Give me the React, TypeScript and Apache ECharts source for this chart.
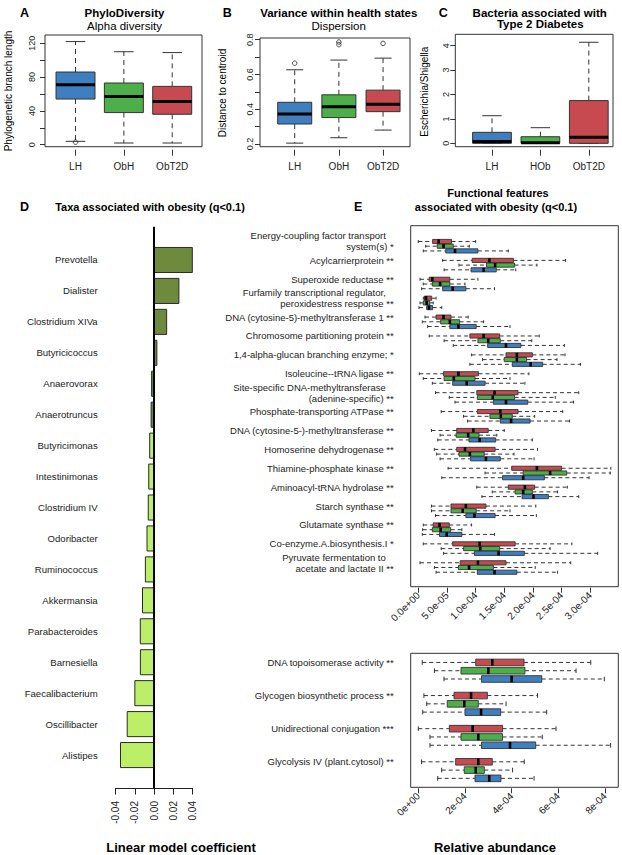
import React, { useEffect, useRef } from 'react';
import * as echarts from 'echarts';

const FONT = '"Liberation Sans", Arial, Helvetica, sans-serif';
const BLUE = '#3F7FBF';
const GREEN = '#4CAF4A';
const RED = '#C64A50';
const DARK_GREEN = '#6E8B3D';
const LIGHT_GREEN = '#BCEE68';

// ---------- Panels A-C : groups ----------
const GROUPS_AB = ['LH', 'ObH', 'ObT2D'];
const GROUPS_C = ['LH', 'HOb', 'ObT2D'];

// box stats: [min, q1, median, q3, max]
const PHYLO_BOX = [
  [4, 54, 71, 86, 122],
  [2, 38, 57, 73, 110],
  [2, 36, 51, 69, 109],
];
const PHYLO_OUTLIERS = [[1, 3]]; // [group position, value]
const PHYLO_TICKS = [0, 20, 40, 60, 80, 100, 120];
const PHYLO_LABELS = [0, 40, 80, 120];

const DISP_BOX = [
  [0.205, 0.315, 0.373, 0.44, 0.627],
  [0.236, 0.352, 0.415, 0.483, 0.683],
  [0.28, 0.386, 0.429, 0.51, 0.694],
];
const DISP_OUTLIERS = [[1, 0.665], [2, 0.787], [2, 0.772], [3, 0.779]];
const DISP_TICKS = [0.2, 0.3, 0.4, 0.5, 0.6, 0.7, 0.8];
const DISP_LABELS = [0.2, 0.4, 0.6, 0.8];

const ESCH_BOX = [
  [0, 0, 0.07, 0.45, 1.13],
  [0, 0, 0.02, 0.27, 0.64],
  [0, 0, 0.25, 1.75, 4.14],
];
const ESCH_TICKS = [0, 1, 2, 3, 4];

// ---------- Panel D ----------
const TAXA = [
  'Prevotella', 'Dialister', 'Clostridium XIVa', 'Butyricicoccus', 'Anaerovorax',
  'Anaerotruncus', 'Butyricimonas', 'Intestinimonas', 'Clostridium IV', 'Odoribacter',
  'Ruminococcus', 'Akkermansia', 'Parabacteroides', 'Barnesiella', 'Faecalibacterium',
  'Oscillibacter', 'Alistipes',
];
const TAXA_COEF = [
  0.04, 0.026, 0.0132, 0.003, -0.0025, -0.003, -0.0045, -0.0055, -0.006, -0.0073,
  -0.009, -0.012, -0.0143, -0.0142, -0.02, -0.028, -0.035,
];
const TAXA_DARK = [1, 1, 1, 1, 1, 1, 0, 0, 0, 0, 0, 0, 0, 0, 0, 0, 0];
const COEF_TICKS = [-0.04, -0.02, 0, 0.02, 0.04];

// ---------- Panel E (values in units of 1e-4) ----------
const NB = '\u00a0\u00a0\u00a0';
const FEATURES_TOP = [
  'Energy-coupling factor transport' + NB + '\nsystem(s) *',
  'Acylcarrierprotein **',
  'Superoxide reductase **',
  'Furfamily transcriptional regulator,' + NB + '\nperoxidestress response **',
  'DNA (cytosine-5)-methyltransferase 1 **',
  'Chromosome partitioning protein **',
  '1,4-alpha-glucan branching enzyme; *',
  'Isoleucine--tRNA ligase **',
  'Site-specific DNA-methyltransferase' + NB + '\n(adenine-specific) **',
  'Phosphate-transporting ATPase **',
  'DNA (cytosine-5-)-methyltransferase **',
  'Homoserine dehydrogenase **',
  'Thiamine-phosphate kinase **',
  'Aminoacyl-tRNA hydrolase **',
  'Starch synthase **',
  'Glutamate synthase **',
  'Co-enzyme.A.biosynthesis.I *',
  'Pyruvate fermentation to' + NB + '\nacetate and lactate II **',
];
const TOP_OBT2D = [
  [0, 0.25, 0.355, 0.58, 1.0],
  [0.425, 0.94, 1.24, 1.66, 2.57],
  [0.03, 0.19, 0.245, 0.55, 1.04],
  [0.087, 0.105, 0.134, 0.233, 0.31],
  [0.117, 0.31, 0.44, 0.57, 0.87],
  [0.19, 0.9, 1.14, 1.42, 2.11],
  [0.93, 1.53, 1.72, 1.99, 2.56],
  [0.017, 0.44, 0.7, 1.05, 1.93],
  [0.3, 1.02, 1.33, 1.74, 2.8],
  [0.4, 1.03, 1.43, 1.74, 2.52],
  [0.23, 0.67, 0.96, 1.22, 1.5],
  [0.28, 0.67, 0.815, 1.34, 2.08],
  [0.52, 1.63, 2.07, 2.5, 3.36],
  [1.02, 1.57, 1.86, 2.03, 2.6],
  [0.23, 0.57, 0.83, 1.18, 2.05],
  [0.087, 0.26, 0.37, 0.54, 0.93],
  [0.087, 0.6, 1.07, 1.69, 2.68],
  [0.03, 0.73, 1.04, 1.53, 2.66],
];
const TOP_OBH = [
  [0.128, 0.33, 0.44, 0.61, 0.89],
  [0.71, 1.19, 1.34, 1.68, 2.07],
  [0.087, 0.245, 0.38, 0.55, 0.815],
  [0.03, 0.087, 0.146, 0.2, 0.26],
  [0.07, 0.39, 0.55, 0.72, 1.14],
  [0.45, 1.04, 1.22, 1.43, 1.98],
  [1.12, 1.5, 1.72, 1.89, 2.42],
  [0.087, 0.45, 0.62, 0.99, 1.6],
  [0.54, 1.03, 1.3, 1.68, 2.39],
  [0.79, 1.25, 1.44, 1.64, 2.03],
  [0.38, 0.66, 0.87, 1.06, 1.37],
  [0.32, 0.71, 0.9, 1.15, 1.67],
  [1.165, 1.83, 2.3, 2.59, 3.35],
  [1.29, 1.69, 1.83, 1.99, 2.43],
  [0.23, 0.57, 0.775, 1.01, 1.6],
  [0.076, 0.245, 0.39, 0.565, 0.76],
  [0.4, 0.79, 1.08, 1.42, 2.3],
  [0.28, 0.7, 0.885, 1.31, 2.04],
];
const TOP_LH = [
  [0.087, 0.48, 0.64, 1.04, 1.57],
  [0.45, 0.92, 1.14, 1.36, 1.7],
  [0.058, 0.425, 0.6, 0.83, 1.33],
  [0.012, 0.146, 0.186, 0.25, 0.41],
  [0.163, 0.55, 0.7, 1.01, 1.6],
  [0.61, 1.21, 1.53, 1.79, 2.55],
  [0.9, 1.64, 1.96, 2.17, 2.83],
  [0.245, 0.6, 0.845, 1.165, 1.86],
  [0.64, 1.31, 1.53, 1.91, 2.71],
  [0.86, 1.43, 1.62, 1.95, 2.64],
  [0.34, 0.885, 1.07, 1.35, 1.99],
  [0.38, 0.91, 1.18, 1.43, 2.02],
  [0.41, 1.47, 1.83, 2.2, 2.98],
  [1.11, 1.81, 2.01, 2.27, 2.8],
  [0.3, 0.83, 0.98, 1.34, 2.06],
  [0.07, 0.37, 0.495, 0.76, 1.33],
  [0.44, 0.98, 1.4, 1.85, 3.13],
  [0.31, 1.03, 1.33, 1.72, 2.43],
];
const TOP_TICKS = [0, 0.5, 1, 1.5, 2, 2.5, 3];

const FEATURES_BOTTOM = [
  'DNA topoisomerase activity **',
  'Glycogen biosynthetic process **',
  'Unidirectional conjugation ***',
  'Glycolysis IV (plant.cytosol) **',
];
const BOT_OBT2D = [
  [0.17, 2.46, 3.17, 4.53, 7.39],
  [0.24, 1.53, 2.26, 2.96, 5.11],
  [0, 1.33, 2.33, 3.61, 5.9],
  [0.14, 1.6, 2.57, 3.17, 4.54],
];
const BOT_OBH = [
  [0.69, 1.83, 3.0, 4.57, 6.76],
  [0.36, 1.24, 1.97, 2.57, 3.76],
  [0.5, 1.83, 2.57, 3.61, 5.31],
  [1.0, 1.97, 2.46, 2.83, 4.04],
];
const BOT_LH = [
  [1.1, 2.71, 4.0, 5.29, 7.97],
  [0.19, 2.0, 2.69, 3.53, 5.5],
  [0.5, 2.71, 3.93, 5.03, 8.24],
  [0.83, 2.43, 3.04, 3.54, 4.96],
];
const BOT_TICKS = [0, 2, 4, 6, 8];

const AB_COLORS = [BLUE, GREEN, RED];
const E_COLORS = [RED, GREEN, BLUE];

function fmtExp(v: number, d: number) {
  return v.toExponential(d).replace(/e([+-])(\d)$/, (_m: string, s: string, n: string) => 'e' + s + '0' + n);
}

function vBox(halfW: number) {
  return (params: any, api: any) => {
    const x = api.value(0);
    const v = [1, 2, 3, 4, 5].map((k) => api.value(k));
    const g = api.value(6);
    const p = v.map((val) => api.coord([x, val]));
    const hw = api.size([halfW, 0])[0];
    const cx = p[0][0];
    const dash = { stroke: '#333', lineWidth: 1, lineDash: [5, 4] };
    const solid = { stroke: '#333', lineWidth: 1 };
    return {
      type: 'group',
      children: [
        { type: 'line', shape: { x1: cx, y1: p[3][1], x2: cx, y2: p[4][1] }, style: dash },
        { type: 'line', shape: { x1: cx, y1: p[1][1], x2: cx, y2: p[0][1] }, style: dash },
        { type: 'line', shape: { x1: cx - hw / 2, y1: p[4][1], x2: cx + hw / 2, y2: p[4][1] }, style: solid },
        { type: 'line', shape: { x1: cx - hw / 2, y1: p[0][1], x2: cx + hw / 2, y2: p[0][1] }, style: solid },
        {
          type: 'rect',
          shape: { x: cx - hw, y: p[3][1], width: 2 * hw, height: p[1][1] - p[3][1] },
          style: { fill: AB_COLORS[g], stroke: '#333', lineWidth: 1 },
        },
        { type: 'line', shape: { x1: cx - hw, y1: p[2][1], x2: cx + hw, y2: p[2][1] }, style: { stroke: '#000', lineWidth: 3 } },
      ],
    };
  };
}

function hBox(boxH: number) {
  return (params: any, api: any) => {
    const y = api.value(0);
    const v = [1, 2, 3, 4, 5].map((k) => api.value(k));
    const g = api.value(6);
    const p = v.map((val) => api.coord([val, y]));
    const h = api.size([0, boxH])[1];
    const cy = p[0][1];
    const cap = h * 0.35;
    const dash = { stroke: '#333', lineWidth: 1, lineDash: [4, 3] };
    const solid = { stroke: '#333', lineWidth: 1 };
    return {
      type: 'group',
      children: [
        { type: 'line', shape: { x1: p[0][0], y1: cy, x2: p[1][0], y2: cy }, style: dash },
        { type: 'line', shape: { x1: p[3][0], y1: cy, x2: p[4][0], y2: cy }, style: dash },
        { type: 'line', shape: { x1: p[0][0], y1: cy - cap, x2: p[0][0], y2: cy + cap }, style: solid },
        { type: 'line', shape: { x1: p[4][0], y1: cy - cap, x2: p[4][0], y2: cy + cap }, style: solid },
        {
          type: 'rect',
          shape: { x: p[1][0], y: cy - h / 2, width: p[3][0] - p[1][0], height: h },
          style: { fill: E_COLORS[g], stroke: '#333', lineWidth: 0.9 },
        },
        { type: 'line', shape: { x1: p[2][0], y1: cy - h / 2, x2: p[2][0], y2: cy + h / 2 }, style: { stroke: '#000', lineWidth: 2.6 } },
      ],
    };
  };
}

function T(text: string, x: number, y: number, size: number, bold: boolean, align = 'center', rotation = 0) {
  return {
    type: 'text',
    x,
    y,
    rotation,
    silent: true,
    style: {
      text,
      font: (bold ? 'bold ' : '') + size + 'px ' + FONT,
      fill: '#000',
      textAlign: align,
      textVerticalAlign: 'middle',
      align,
      verticalAlign: 'middle',
    },
  };
}

const frame = { show: true, borderColor: '#333', borderWidth: 1, backgroundColor: 'transparent' };
const noLine = { show: false, onZero: false };
const lbl = { color: '#222', fontFamily: FONT };

function catX(gi: number, min: number, max: number, names: string[]) {
  return {
    gridIndex: gi, type: 'value', min, max, offset: 3,
    axisLine: noLine, splitLine: { show: false },
    axisTick: { customValues: [1, 2, 3], length: 6, lineStyle: { color: '#333' } },
    axisLabel: { ...lbl, customValues: [1, 2, 3], formatter: (v: number) => names[Math.round(v) - 1], fontSize: 10, margin: 12 },
  };
}
function valY(gi: number, min: number, max: number, ticks: number[], labels: number[], margin: number, fmt: (v: number) => string) {
  return {
    gridIndex: gi, type: 'value', min, max,
    axisLine: noLine, splitLine: { show: false },
    axisTick: { customValues: ticks, length: 5, lineStyle: { color: '#333' } },
    axisLabel: { ...lbl, customValues: labels, rotate: 90, fontSize: 9, margin, formatter: fmt },
  };
}

export default function App() {
  const ref = useRef<HTMLDivElement>(null);
  useEffect(() => {
    document.body.style.margin = '0';
    const chart = echarts.init(ref.current!, null, { renderer: 'svg' });

    const boxData = (arr: number[][]) => arr.map((b, i) => [i + 1, ...b, i]);
    const eData = (r: number[][], g: number[][], b: number[][]) => {
      const out: number[][] = [];
      r.forEach((_, i) => {
        out.push([i - 0.25, ...r[i], 0]);
        out.push([i, ...g[i], 1]);
        out.push([i + 0.25, ...b[i], 2]);
      });
      return out;
    };

    const option: any = {
      animation: false,
      textStyle: { fontFamily: FONT },
      grid: [
        { left: 45, top: 35, width: 157, height: 111.7, ...frame },
        { left: 260, top: 38, width: 150, height: 108.7, ...frame },
        { left: 455.3, top: 34.3, width: 157.7, height: 112.4, ...frame },
        { left: 115.7, top: 226.7, width: 76.6, height: 561.3, show: false },
        { left: 410.7, top: 225.7, width: 207.6, height: 361, ...frame },
        { left: 410.7, top: 653.3, width: 207.6, height: 134, ...frame },
      ],
      xAxis: [
        catX(0, 0.369, 3.616, GROUPS_AB),
        catX(1, 0.214, 3.61, GROUPS_AB),
        catX(2, 0.242, 3.5, GROUPS_C),
        {
          gridIndex: 3, type: 'value', min: -0.04, max: 0.04,
          axisLine: { show: true, onZero: false, lineStyle: { color: '#222', width: 1 } },
          splitLine: { show: false },
          axisTick: { customValues: COEF_TICKS, length: 6.5, lineStyle: { color: '#222' } },
          axisLabel: { ...lbl, customValues: COEF_TICKS, rotate: 90, fontSize: 10, margin: 13, formatter: (v: number) => v.toFixed(2) },
        },
        {
          gridIndex: 4, type: 'value', min: -0.1328, max: 3.49, offset: 1,
          axisLine: noLine, splitLine: { show: false },
          axisTick: { customValues: TOP_TICKS, length: 5, lineStyle: { color: '#333' } },
          axisLabel: { ...lbl, customValues: TOP_TICKS, rotate: 45, fontSize: 10, margin: 6, formatter: (v: number) => fmtExp(v * 1e-4, 1) },
        },
        {
          gridIndex: 5, type: 'value', min: -0.326, max: 8.57, offset: 1,
          axisLine: noLine, splitLine: { show: false },
          axisTick: { customValues: BOT_TICKS, length: 5, lineStyle: { color: '#333' } },
          axisLabel: { ...lbl, customValues: BOT_TICKS, rotate: 45, fontSize: 10, margin: 6, formatter: (v: number) => fmtExp(v * 1e-4, 0) },
        },
      ],
      yAxis: [
        valY(0, -2.37, 129.8, PHYLO_TICKS, PHYLO_LABELS, 9, (v) => String(Math.round(v))),
        valY(1, 0.1844, 0.81, DISP_TICKS, DISP_LABELS, 6, (v) => v.toFixed(1)),
        valY(2, -0.139, 4.467, ESCH_TICKS, ESCH_TICKS, 5, (v) => String(Math.round(v))),
        {
          gridIndex: 3, type: 'value', min: -1.076, max: 17.065, inverse: true,
          axisLine: noLine, splitLine: { show: false }, axisTick: { show: false },
          axisLabel: { ...lbl, customValues: TAXA.map((_, i) => i), fontSize: 9.6, margin: 18, formatter: (v: number) => TAXA[Math.round(v)] },
        },
        {
          gridIndex: 4, type: 'value', min: -1.085, max: 18.016, inverse: true,
          axisLine: noLine, splitLine: { show: false }, axisTick: { show: false },
          axisLabel: {
            ...lbl, customValues: FEATURES_TOP.map((_, i) => i - 0.25), fontSize: 9.5, lineHeight: 11, margin: 17,
            formatter: (v: number) => FEATURES_TOP[Math.round(v + 0.25)],
          },
        },
        {
          gridIndex: 5, type: 'value', min: -0.526, max: 3.52, inverse: true,
          axisLine: noLine, splitLine: { show: false }, axisTick: { show: false },
          axisLabel: {
            ...lbl, customValues: FEATURES_BOTTOM.map((_, i) => i - 0.25), fontSize: 9.5, margin: 17,
            formatter: (v: number) => FEATURES_BOTTOM[Math.round(v + 0.25)],
          },
        },
      ],
      series: [
        { type: 'custom', xAxisIndex: 0, yAxisIndex: 0, renderItem: vBox(0.403), encode: { x: 0, y: [1, 2, 3, 4, 5] }, data: boxData(PHYLO_BOX) },
        { type: 'scatter', xAxisIndex: 0, yAxisIndex: 0, symbol: 'circle', symbolSize: 4.5, itemStyle: { color: 'rgba(0,0,0,0)', borderColor: '#222', borderWidth: 1 }, data: PHYLO_OUTLIERS },
        { type: 'custom', xAxisIndex: 1, yAxisIndex: 1, renderItem: vBox(0.385), encode: { x: 0, y: [1, 2, 3, 4, 5] }, data: boxData(DISP_BOX) },
        { type: 'scatter', xAxisIndex: 1, yAxisIndex: 1, symbol: 'circle', symbolSize: 4.5, itemStyle: { color: 'rgba(0,0,0,0)', borderColor: '#222', borderWidth: 1 }, data: DISP_OUTLIERS },
        { type: 'custom', xAxisIndex: 2, yAxisIndex: 2, renderItem: vBox(0.4), encode: { x: 0, y: [1, 2, 3, 4, 5] }, data: boxData(ESCH_BOX) },
        {
          type: 'custom', xAxisIndex: 3, yAxisIndex: 3, encode: { x: 1, y: 0 },
          data: TAXA_COEF.map((v, i) => [i, v, TAXA_DARK[i]]),
          renderItem: (params: any, api: any) => {
            const i = api.value(0);
            const v = api.value(1);
            const p0 = api.coord([0, i]);
            const p1 = api.coord([v, i]);
            const h = api.size([0, 0.81])[1];
            return {
              type: 'rect',
              shape: { x: Math.min(p0[0], p1[0]), y: p0[1] - h / 2, width: Math.abs(p1[0] - p0[0]), height: h },
              style: { fill: api.value(2) ? DARK_GREEN : LIGHT_GREEN, stroke: '#2a2a2a', lineWidth: 1 },
            };
          },
        },
        {
          type: 'custom', xAxisIndex: 3, yAxisIndex: 3, z: 5, data: [[0, 0]], encode: { x: 0, y: 1 },
          renderItem: (params: any, api: any) => {
            const cs = params.coordSys;
            const x = api.coord([api.value(0), 0])[0];
            return { type: 'line', shape: { x1: x, y1: cs.y, x2: x, y2: cs.y + cs.height }, style: { stroke: '#000', lineWidth: 2 } };
          },
        },
        { type: 'custom', xAxisIndex: 4, yAxisIndex: 4, renderItem: hBox(0.22), encode: { x: [1, 2, 3, 4, 5], y: 0 }, data: eData(TOP_OBT2D, TOP_OBH, TOP_LH) },
        { type: 'custom', xAxisIndex: 5, yAxisIndex: 5, renderItem: hBox(0.2), encode: { x: [1, 2, 3, 4, 5], y: 0 }, data: eData(BOT_OBT2D, BOT_OBH, BOT_LH) },
      ],
      graphic: [
        T('A', 20, 12.7, 12.5, true, 'left'),
        T('PhyloDiversity', 124.5, 12.7, 11.5, true),
        T('Alpha diversity', 124.5, 25.7, 11.5, false),
        T('B', 222.7, 12.7, 12.5, true, 'left'),
        T('Variance within health states', 338.8, 12.7, 11.5, true),
        T('Dispersion', 338.7, 25.7, 11.5, false),
        T('C', 438.7, 12.7, 12.5, true, 'left'),
        T('Bacteria associated with', 539.7, 12.7, 11.5, true),
        T('Type 2 Diabetes', 540.3, 24, 11.5, true),
        T('Phylogenetic branch length', 8.5, 91, 10, false, 'center', Math.PI / 2),
        T('Distance to centroid', 222.5, 93, 10, false, 'center', Math.PI / 2),
        T('Escherichia/Shigella', 424.7, 91.7, 10, false, 'center', Math.PI / 2),
        T('D', 20, 207, 12.5, true, 'left'),
        T('Taxa associated with obesity (q<0.1)', 150, 207, 11, true),
        T('E', 354, 207, 12.5, true, 'left'),
        T('Functional features', 498, 193, 11, true),
        T('associated with obesity (q<0.1)', 496, 207, 11, true),
        T('Linear model coefficient', 181, 847, 13, true),
        T('Relative abundance', 495, 847, 13, true),
      ],
    };
    chart.setOption(option);
    return () => chart.dispose();
  }, []);
  return <div ref={ref} style={{ width: 622, height: 855 }} />;
}
